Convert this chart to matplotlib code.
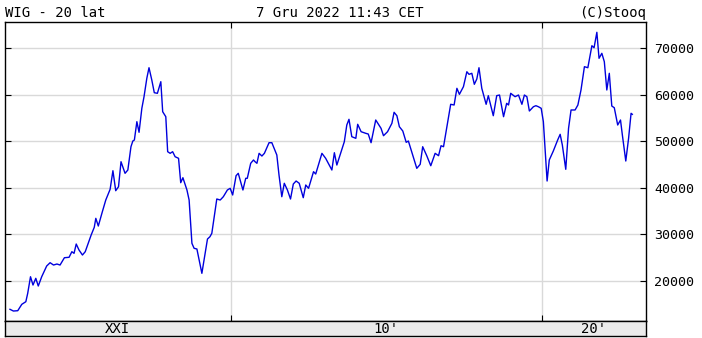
import numpy as np
import matplotlib
matplotlib.use("Agg")
import matplotlib.pyplot as plt

# WIG, ~20 years
years = [2002.90, 2003.01, 2003.15, 2003.28, 2003.41, 2003.47, 2003.56, 2003.64, 2003.73, 2003.81,
         2003.92, 2004.08, 2004.19, 2004.30, 2004.41, 2004.51, 2004.65, 2004.80, 2004.89, 2004.96,
         2005.03, 2005.12, 2005.23, 2005.32, 2005.51, 2005.61, 2005.66, 2005.74, 2005.87, 2005.98,
         2006.12, 2006.21, 2006.30, 2006.39, 2006.47, 2006.60, 2006.69, 2006.79, 2006.85, 2006.90,
         2006.98, 2007.05, 2007.14, 2007.21, 2007.30, 2007.37, 2007.46, 2007.54, 2007.64, 2007.75,
         2007.81, 2007.91, 2007.97, 2008.05, 2008.13, 2008.21, 2008.32, 2008.39, 2008.46, 2008.59,
         2008.66, 2008.75, 2008.82, 2008.91, 2009.07, 2009.25, 2009.33, 2009.39, 2009.55, 2009.66,
         2009.76, 2009.89, 2009.98, 2010.06, 2010.17, 2010.24, 2010.39, 2010.48, 2010.53, 2010.64,
         2010.73, 2010.78, 2010.84, 2010.91, 2011.00, 2011.08, 2011.23, 2011.32, 2011.48, 2011.55,
         2011.64, 2011.72, 2011.82, 2011.92, 2012.01, 2012.10, 2012.20, 2012.33, 2012.41, 2012.50,
         2012.66, 2012.73, 2012.93, 2013.05, 2013.25, 2013.33, 2013.41, 2013.65, 2013.73, 2013.80,
         2013.89, 2014.02, 2014.08, 2014.19, 2014.34, 2014.42, 2014.51, 2014.66, 2014.83, 2014.91,
         2015.04, 2015.18, 2015.25, 2015.34, 2015.42, 2015.53, 2015.64, 2015.71, 2015.85, 2015.98,
         2016.09, 2016.17, 2016.30, 2016.43, 2016.57, 2016.68, 2016.76, 2016.84, 2016.95, 2017.07,
         2017.18, 2017.27, 2017.35, 2017.48, 2017.59, 2017.66, 2017.75, 2017.83, 2017.91, 2017.98,
         2018.07, 2018.21, 2018.28, 2018.44, 2018.55, 2018.64, 2018.77, 2018.87, 2018.93, 2019.00,
         2019.14, 2019.25, 2019.36, 2019.44, 2019.52, 2019.60, 2019.73, 2019.81, 2019.89, 2019.98,
         2020.05, 2020.17, 2020.24, 2020.37, 2020.51, 2020.59, 2020.66, 2020.77, 2020.86, 2020.94,
         2021.07, 2021.16, 2021.26, 2021.37, 2021.48, 2021.61, 2021.68, 2021.77, 2021.84, 2021.93,
         2022.01, 2022.09, 2022.17, 2022.25, 2022.33, 2022.44, 2022.53, 2022.59, 2022.70, 2022.79,
         2022.87, 2022.91]
wig = [13930, 13560, 13630, 15000, 15560, 17360, 20920, 19140, 20580, 18930,
       20920, 23220, 23930, 23430, 23650, 23430, 25000, 25090, 26290, 25940,
       27940, 26650, 25580, 26290, 29870, 31520, 33450, 31800, 34870, 37380,
       39680, 43670, 39380, 40240, 45600, 43110, 43820, 48820, 50040, 50260,
       54190, 51910, 57060, 59550, 63500, 65770, 63130, 60410, 60280, 62770,
       56330, 55260, 47750, 47400, 47750, 46670, 46330, 41100, 42170, 39530,
       37380, 28090, 27020, 26870, 21650, 29010, 29510, 30240, 37600, 37380,
       38090, 39530, 39890, 38460, 42600, 43110, 39530, 42040, 42040, 45260,
       45970, 45600, 45260, 47400, 46820, 47400, 49680, 49680, 47040, 42750,
       38090, 40970, 39530, 37600, 40820, 41460, 40970, 37880, 40600, 39890,
       43460, 42960, 47400, 46330, 43820, 47530, 44890, 49890, 53480, 54700,
       50970, 50620, 53630, 52040, 51690, 51540, 49680, 54550, 52770, 51180,
       52040, 53840, 56200, 55470, 53110, 52190, 49760, 50040, 47040, 44180,
       45040, 48820, 46890, 44740, 47400, 46890, 49030, 48820, 53110, 57920,
       57770, 61350, 60060, 61700, 64910, 64350, 64570, 62210, 63350, 65770,
       61350, 57920, 59770, 55470, 59770, 59910, 55260, 58130, 57770, 60280,
       59550, 59910, 57920, 59910, 59550, 56480, 57400, 57620, 57400, 57060,
       54190, 41460, 45970, 47900, 50260, 51480, 49180, 43970, 52770, 56700,
       56700, 57770, 60990, 65990, 65770, 70490, 70060, 73370, 67790, 68860,
       67060, 60990, 64570, 57550, 57190, 53480, 54550, 51330, 45750, 50620,
       55990, 55770]

y_ticks = [20000, 30000, 40000, 50000, 60000, 70000]
decades = [2010, 2020]
decade_labels = ["XXI", "10'", "20'"]

x_min, x_max = 2002.74, 2023.35
y_min, y_max = 11420, 75580

W, H = 702, 338
fig = plt.figure(figsize=(W / 100, H / 100), dpi=100)
mono = "DejaVu Sans Mono"

ax = fig.add_axes([5 / W, (H - 321) / H, 641 / W, 299 / H])
ax.plot(years, wig, color="#0000dd", lw=1.0)
ax.set_xlim(x_min, x_max)
ax.set_ylim(y_min, y_max)
ax.set_xticks(decades)
ax.set_xticklabels([])
ax.set_yticks(y_ticks)
ax.grid(True, color="#d9d9d9", lw=1.0)
ax.tick_params(axis="x", direction="in", length=4, width=0.8, top=True, bottom=True)
ax.tick_params(axis="y", direction="in", length=4, width=0.8, left=True, right=True,
               labelleft=False, labelright=True, labelsize=9.6, pad=6)
for lab in ax.get_yticklabels():
    lab.set_family(mono)
for s in ax.spines.values():
    s.set_linewidth(1.0)
    s.set_color("black")

# decade band under the plot
band = fig.add_axes([5 / W, (H - 336) / H, 641 / W, 15 / H])
band.set_facecolor("#ebebeb")
band.set_xlim(x_min, x_max)
band.set_ylim(0, 1)
band.set_xticks([])
band.set_yticks([])
for s in band.spines.values():
    s.set_linewidth(1.0)
bounds = [x_min] + decades + [x_max]
for i, lab in enumerate(decade_labels):
    band.text((bounds[i] + bounds[i + 1]) / 2, 0.45, lab, ha="center", va="center",
              family=mono, fontsize=10)

fig.text(5 / W, 1 - 17 / H, "WIG - 20 lat", family=mono, fontsize=10, ha="left", va="baseline")
fig.text(340 / W, 1 - 17 / H, "7 Gru 2022 11:43 CET", family=mono, fontsize=10,
         ha="center", va="baseline")
fig.text(646 / W, 1 - 17 / H, "(C)Stooq", family=mono, fontsize=10, ha="right", va="baseline")

fig.savefig("out.png", dpi=100)
